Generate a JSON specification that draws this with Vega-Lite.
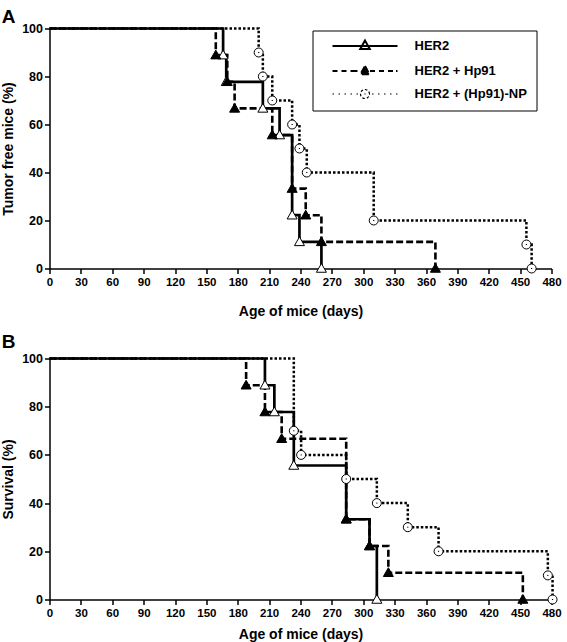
{
  "$schema": "https://vega.github.io/schema/vega-lite/v6.json",
  "padding": {"left": 1.5, "top": 7.5, "right": 5, "bottom": 0},
  "config": {
    "font": "Liberation Sans",
    "view": {"stroke": null},
    "axis": {
      "domainColor": "black", "domainWidth": 1.5, "tickColor": "black", "tickWidth": 1.5, "tickSize": 5,
      "labelFont": "Liberation Sans", "labelFontWeight": "bold", "labelColor": "black", "labelFontSize": 11.5,
      "titleFont": "Liberation Sans", "titleFontWeight": "bold", "titleColor": "black", "titleFontSize": 14,
      "grid": false, "labelFlush": false, "labelOverlap": false
    },
    "title": {"font": "Liberation Sans", "fontWeight": "bold", "fontSize": 19, "color": "black", "anchor": "start", "frame": "bounds"}
  },
  "datasets": {
    "km": [
      {"panel": "A", "group": "HER2", "day": 0, "pct": 100},
      {"panel": "A", "group": "HER2", "day": 166, "pct": 88.9},
      {"panel": "A", "group": "HER2", "day": 169, "pct": 77.8},
      {"panel": "A", "group": "HER2", "day": 204, "pct": 66.7},
      {"panel": "A", "group": "HER2", "day": 220, "pct": 55.6},
      {"panel": "A", "group": "HER2", "day": 232, "pct": 22.2},
      {"panel": "A", "group": "HER2", "day": 239, "pct": 11.1},
      {"panel": "A", "group": "HER2", "day": 260, "pct": 0},
      {"panel": "A", "group": "HER2 + Hp91", "day": 0, "pct": 100},
      {"panel": "A", "group": "HER2 + Hp91", "day": 159, "pct": 88.9},
      {"panel": "A", "group": "HER2 + Hp91", "day": 170, "pct": 77.8},
      {"panel": "A", "group": "HER2 + Hp91", "day": 177, "pct": 66.7},
      {"panel": "A", "group": "HER2 + Hp91", "day": 213, "pct": 55.6},
      {"panel": "A", "group": "HER2 + Hp91", "day": 232, "pct": 33.3},
      {"panel": "A", "group": "HER2 + Hp91", "day": 245, "pct": 22.2},
      {"panel": "A", "group": "HER2 + Hp91", "day": 260, "pct": 11.1},
      {"panel": "A", "group": "HER2 + Hp91", "day": 369, "pct": 0},
      {"panel": "A", "group": "HER2 + (Hp91)-NP", "day": 0, "pct": 100},
      {"panel": "A", "group": "HER2 + (Hp91)-NP", "day": 200, "pct": 90},
      {"panel": "A", "group": "HER2 + (Hp91)-NP", "day": 204, "pct": 80},
      {"panel": "A", "group": "HER2 + (Hp91)-NP", "day": 213, "pct": 70},
      {"panel": "A", "group": "HER2 + (Hp91)-NP", "day": 232, "pct": 60},
      {"panel": "A", "group": "HER2 + (Hp91)-NP", "day": 239, "pct": 50},
      {"panel": "A", "group": "HER2 + (Hp91)-NP", "day": 246, "pct": 40},
      {"panel": "A", "group": "HER2 + (Hp91)-NP", "day": 310, "pct": 20},
      {"panel": "A", "group": "HER2 + (Hp91)-NP", "day": 456, "pct": 10},
      {"panel": "A", "group": "HER2 + (Hp91)-NP", "day": 461, "pct": 0},
      {"panel": "B", "group": "HER2", "day": 0, "pct": 100},
      {"panel": "B", "group": "HER2", "day": 206, "pct": 88.9},
      {"panel": "B", "group": "HER2", "day": 215, "pct": 77.8},
      {"panel": "B", "group": "HER2", "day": 233.6, "pct": 55.6},
      {"panel": "B", "group": "HER2", "day": 283.7, "pct": 33.3},
      {"panel": "B", "group": "HER2", "day": 306, "pct": 22.2},
      {"panel": "B", "group": "HER2", "day": 313, "pct": 0},
      {"panel": "B", "group": "HER2 + Hp91", "day": 0, "pct": 100},
      {"panel": "B", "group": "HER2 + Hp91", "day": 188, "pct": 88.9},
      {"panel": "B", "group": "HER2 + Hp91", "day": 206, "pct": 77.8},
      {"panel": "B", "group": "HER2 + Hp91", "day": 222, "pct": 66.7},
      {"panel": "B", "group": "HER2 + Hp91", "day": 283.7, "pct": 33.3},
      {"panel": "B", "group": "HER2 + Hp91", "day": 306, "pct": 22.2},
      {"panel": "B", "group": "HER2 + Hp91", "day": 324, "pct": 11.1},
      {"panel": "B", "group": "HER2 + Hp91", "day": 452.6, "pct": 0},
      {"panel": "B", "group": "HER2 + (Hp91)-NP", "day": 0, "pct": 100},
      {"panel": "B", "group": "HER2 + (Hp91)-NP", "day": 233.6, "pct": 70},
      {"panel": "B", "group": "HER2 + (Hp91)-NP", "day": 240.6, "pct": 60},
      {"panel": "B", "group": "HER2 + (Hp91)-NP", "day": 283.7, "pct": 50},
      {"panel": "B", "group": "HER2 + (Hp91)-NP", "day": 313, "pct": 40},
      {"panel": "B", "group": "HER2 + (Hp91)-NP", "day": 342.6, "pct": 30},
      {"panel": "B", "group": "HER2 + (Hp91)-NP", "day": 372, "pct": 20},
      {"panel": "B", "group": "HER2 + (Hp91)-NP", "day": 476.5, "pct": 10},
      {"panel": "B", "group": "HER2 + (Hp91)-NP", "day": 481, "pct": 0}
    ]
  },
  "resolve": {"legend": {"strokeDash": "independent"}},
  "spacing": 14,
  "vconcat": [
    {
      "title": {"text": "A", "offset": -4},
      "width": 502, "height": 240,
      "data": {"name": "km"},
      "transform": [{"filter": "datum.panel === 'A'"}],
      "encoding": {
        "x": {"field": "day", "type": "quantitative", "scale": {"domain": [0, 480], "nice": false},
              "axis": {"values": [0,30,60,90,120,150,180,210,240,270,300,330,360,390,420,450,480], "title": "Age of mice (days)", "titlePadding": 16, "labelPadding": 3}},
        "y": {"field": "pct", "type": "quantitative", "scale": {"domain": [0, 100], "nice": false},
              "axis": {"values": [0,20,40,60,80,100], "title": "Tumor free mice (%)", "titlePadding": 6, "labelFontSize": 12.5}}
      },
      "layer": [
        {
          "mark": {"type": "line", "interpolate": "step-after", "color": "black"},
          "encoding": {
            "strokeDash": {"field": "group", "type": "nominal",
              "scale": {"domain": ["HER2", "HER2 + Hp91", "HER2 + (Hp91)-NP"], "range": [[1, 0], [7, 3], [2.5, 2]]},
              "legend": {
                "orient": "none", "legendX": 263, "legendY": 2, "title": null,
                "strokeColor": "black", "fillColor": "white", "padding": 9,
                "labelFont": "Liberation Sans", "labelFontSize": 13, "labelFontWeight": "bold", "labelColor": "black",
                "symbolSize": 100, "symbolOffset": 37, "labelOffset": 43, "rowPadding": 8,
                "encoding": {"symbols": {
                  "shape": {"value": {"expr": "datum.value === 'HER2' ? 'M-6.5,0L6.5,0M0,-1.1L0.95,0.6L-0.95,0.6Z' : datum.value === 'HER2 + Hp91' ? 'M-6.5,0L-5.5,0M-4.7,0L-3.7,0M-2.9,0L-1,0M1,0L2,0M2.8,0L3.8,0M4.6,0L5.6,0M6.2,0L6.5,0M0,-1L0.9,0.65L-0.9,0.65Z' : 'M-6.5,0L-6.2,0M-5.3,0L-5,0M-4.1,0L-3.8,0M-2.9,0L-2.6,0M-1.7,0L-1.4,0M1.4,0L1.7,0M2.6,0L2.9,0M3.8,0L4.1,0M5,0L5.3,0M6.2,0L6.5,0M0.9,0A0.9,0.9 0 1,0 -0.9,0A0.9,0.9 0 1,0 0.9,0ZM0.12,0L-0.12,0'"}},
                  "fill": {"value": {"expr": "datum.value === 'HER2 + Hp91' ? 'black' : 'white'"}},
                  "stroke": {"value": "black"},
                  "strokeDash": {"value": [1, 0]},
                  "strokeWidth": {"value": {"expr": "datum.value === 'HER2 + (Hp91)-NP' ? 1.2 : 2"}},
                  "size": {"value": 100},
                  "opacity": {"value": 1}
                }}
              }},
            "strokeWidth": {"field": "group", "type": "nominal",
              "scale": {"domain": ["HER2", "HER2 + Hp91", "HER2 + (Hp91)-NP"], "range": [2.7, 2.5, 1.3]}, "legend": null}
          }
        },
        {
          "transform": [{"filter": "datum.day > 0"}],
          "mark": {"type": "point", "filled": true, "stroke": "black", "strokeWidth": 1, "size": 100, "opacity": 1},
          "encoding": {
            "shape": {"field": "group", "type": "nominal",
              "scale": {"domain": ["HER2", "HER2 + Hp91", "HER2 + (Hp91)-NP"], "range": ["M0,-1L1,0.75L-1,0.75Z", "M0,-1L1,0.75L-1,0.75Z", "M0.9,0A0.9,0.9 0 1,0 -0.9,0A0.9,0.9 0 1,0 0.9,0ZM0.12,0L-0.12,0"]}, "legend": null},
            "fill": {"field": "group", "type": "nominal",
              "scale": {"domain": ["HER2", "HER2 + Hp91", "HER2 + (Hp91)-NP"], "range": ["white", "black", "white"]}, "legend": null}
          }
        }
      ]
    },
    {
      "title": {"text": "B", "offset": 1},
      "width": 502, "height": 241,
      "data": {"name": "km"},
      "transform": [{"filter": "datum.panel === 'B'"}],
      "encoding": {
        "x": {"field": "day", "type": "quantitative", "scale": {"domain": [0, 480], "nice": false},
              "axis": {"values": [0,30,60,90,120,150,180,210,240,270,300,330,360,390,420,450,480], "title": "Age of  mice (days)", "titlePadding": 8, "labelPadding": 3}},
        "y": {"field": "pct", "type": "quantitative", "scale": {"domain": [0, 100], "nice": false},
              "axis": {"values": [0,20,40,60,80,100], "title": "Survival (%)", "titlePadding": 6, "labelFontSize": 12.5}}
      },
      "layer": [
        {
          "mark": {"type": "line", "interpolate": "step-after", "color": "black"},
          "encoding": {
            "strokeDash": {"field": "group", "type": "nominal",
              "scale": {"domain": ["HER2", "HER2 + Hp91", "HER2 + (Hp91)-NP"], "range": [[1, 0], [7, 3], [2.5, 2]]}, "legend": null},
            "strokeWidth": {"field": "group", "type": "nominal",
              "scale": {"domain": ["HER2", "HER2 + Hp91", "HER2 + (Hp91)-NP"], "range": [2.7, 2.5, 1.3]}, "legend": null}
          }
        },
        {
          "transform": [{"filter": "datum.day > 0"}],
          "mark": {"type": "point", "filled": true, "stroke": "black", "strokeWidth": 1, "size": 100, "opacity": 1},
          "encoding": {
            "shape": {"field": "group", "type": "nominal",
              "scale": {"domain": ["HER2", "HER2 + Hp91", "HER2 + (Hp91)-NP"], "range": ["M0,-1L1,0.75L-1,0.75Z", "M0,-1L1,0.75L-1,0.75Z", "M0.9,0A0.9,0.9 0 1,0 -0.9,0A0.9,0.9 0 1,0 0.9,0ZM0.12,0L-0.12,0"]}, "legend": null},
            "fill": {"field": "group", "type": "nominal",
              "scale": {"domain": ["HER2", "HER2 + Hp91", "HER2 + (Hp91)-NP"], "range": ["white", "black", "white"]}, "legend": null}
          }
        }
      ]
    }
  ]
}
